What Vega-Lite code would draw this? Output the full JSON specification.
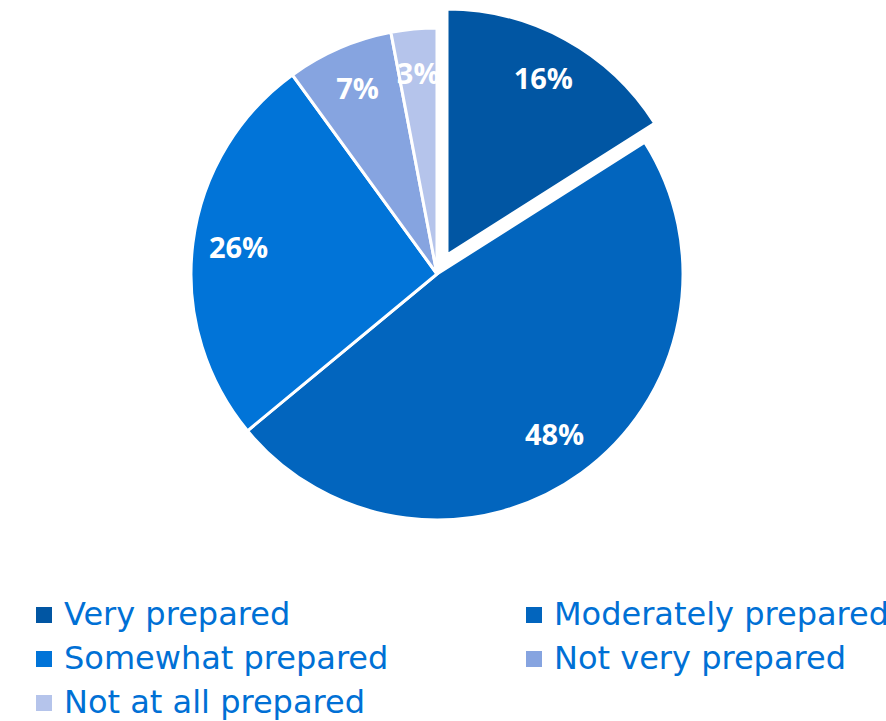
{
  "$schema": "https://vega.github.io/schema/vega-lite/v6.json",
  "width": 874,
  "height": 548,
  "autosize": {"type": "none"},
  "padding": {"left": 0, "top": 0, "right": 12, "bottom": 173},
  "background": "white",
  "config": {"view": {"stroke": null}, "font": "Open Sans"},
  "data": {
    "values": [
      {"category": "Very prepared", "pct": 16},
      {"category": "Moderately prepared", "pct": 48},
      {"category": "Somewhat prepared", "pct": 26},
      {"category": "Not very prepared", "pct": 7},
      {"category": "Not at all prepared", "pct": 3}
    ]
  },
  "layer": [
    {
      "transform": [
        {"window": [{"op": "row_number", "as": "ord"}]},
        {"stack": "pct", "groupby": [], "sort": [{"field": "ord", "order": "ascending"}], "as": ["start", "end"]},
        {"filter": "datum.category !== 'Very prepared'"}
      ],
      "mark": {"type": "arc", "radius": 246, "stroke": "white", "strokeWidth": 3},
      "encoding": {
        "theta": {"field": "start", "type": "quantitative", "scale": {"domain": [0, 100]}},
        "theta2": {"field": "end"},
        "color": {
          "field": "category", "type": "nominal",
          "scale": {
            "domain": ["Very prepared", "Moderately prepared", "Somewhat prepared", "Not very prepared", "Not at all prepared"],
            "range": ["#0156A3", "#0265BE", "#0174D8", "#86A4E0", "#B5C4EB"]
          },
          "legend": {
            "title": null,
            "orient": "none",
            "direction": "horizontal",
            "legendX": 28,
            "legendY": 599,
            "columns": 2,
            "columnPadding": 129,
            "rowPadding": 12,
            "padding": 0,
            "symbolType": "square",
            "symbolSize": 256,
            "symbolStrokeWidth": 0,
            "labelFontSize": 32,
            "labelColor": "#0070D5",
            "labelFont": "DejaVu Sans",
            "labelOffset": 4,
            "labelLimit": 500
          }
        }
      }
    },
    {
      "transform": [
        {"window": [{"op": "row_number", "as": "ord"}]},
        {"stack": "pct", "groupby": [], "sort": [{"field": "ord", "order": "ascending"}], "as": ["start", "end"]},
        {"filter": "datum.category === 'Very prepared'"}
      ],
      "mark": {"type": "arc", "radius": 246, "stroke": "white", "strokeWidth": 3, "xOffset": 10, "yOffset": -19},
      "encoding": {
        "theta": {"field": "start", "type": "quantitative", "scale": {"domain": [0, 100]}},
        "theta2": {"field": "end"},
        "color": {"field": "category", "type": "nominal"}
      }
    },
    {
      "mark": {"type": "text", "radius": 200, "font": "Open Sans", "fontWeight": "bold", "fontSize": 29, "fill": "white"},
      "encoding": {
        "theta": {"field": "pct", "type": "quantitative", "stack": true, "sort": null},
        "order": {"field": "ord"},
        "text": {"field": "label"},
        "opacity": {"condition": {"test": "datum.category === 'Very prepared'", "value": 0}, "value": 1}
      },
      "transform": [
        {"window": [{"op": "row_number", "as": "ord"}]},
        {"calculate": "datum.pct + '%'", "as": "label"}
      ]
    },
    {
      "mark": {"type": "text", "radius": 200, "font": "Open Sans", "fontWeight": "bold", "fontSize": 29, "fill": "white", "xOffset": 10, "yOffset": -19},
      "encoding": {
        "theta": {"field": "pct", "type": "quantitative", "stack": true, "sort": null},
        "order": {"field": "ord"},
        "text": {"field": "label"},
        "opacity": {"condition": {"test": "datum.category === 'Very prepared'", "value": 1}, "value": 0}
      },
      "transform": [
        {"window": [{"op": "row_number", "as": "ord"}]},
        {"calculate": "datum.pct + '%'", "as": "label"}
      ]
    }
  ]
}
